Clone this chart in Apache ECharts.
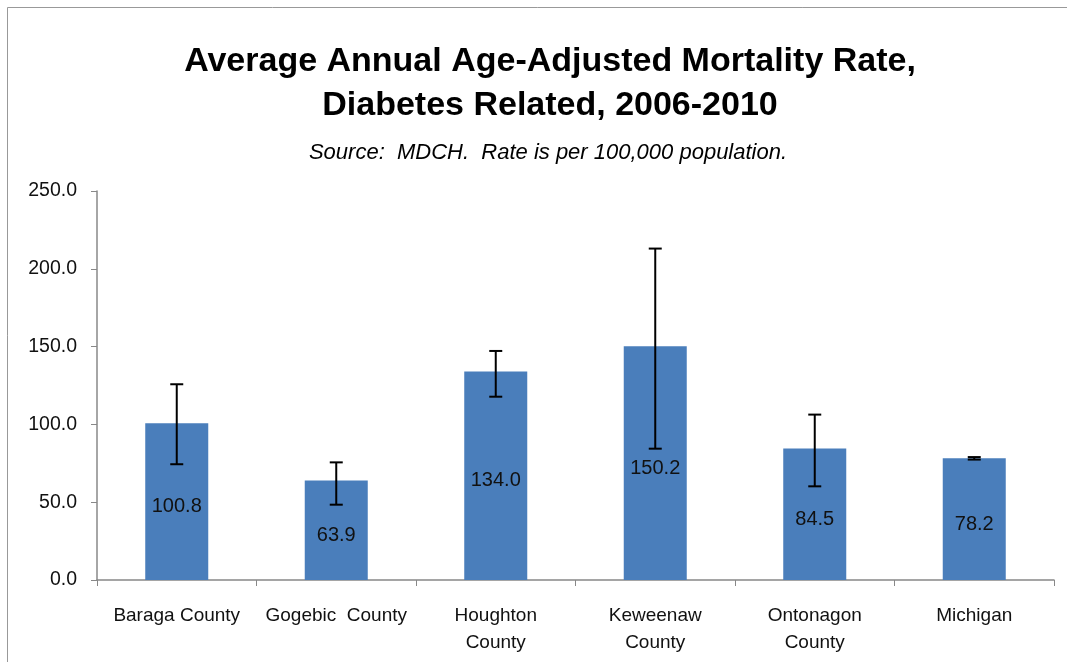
<!DOCTYPE html>
<html><head><meta charset="utf-8">
<script src="https://cdn.jsdelivr.net/npm/echarts@6/dist/echarts.min.js"></script>
<style>html,body{margin:0;padding:0;background:#fff}#c{width:1067px;height:662px}</style>
</head><body><div id="c"></div>
<script>
const categories = ["Baraga County", "Gogebic  County", "Houghton\nCounty", "Keweenaw\nCounty", "Ontonagon\nCounty", "Michigan"];
const rates = [100.8, 63.9, 134.0, 150.2, 84.5, 78.2];
const lowerCI = [74.4, 48.4, 117.8, 84.4, 60.2, 77.4];
const upperCI = [125.8, 75.6, 147.2, 213.0, 106.3, 79.0];
const yTicks = [0, 50, 100, 150, 200, 250];

const FONT = "'Liberation Sans', Arial, sans-serif";
const chart = echarts.init(document.getElementById('c'));
chart.setOption({
  animation: false,
  backgroundColor: '#fff',
  graphic: [{
    type: 'rect', shape: {x: 7.5, y: 7.5, width: 1070, height: 700},
    style: {fill: 'none', stroke: '#999', lineWidth: 1}, silent: true
  }],
  title: [{
    text: 'Average Annual Age-Adjusted Mortality Rate,\nDiabetes Related, 2006-2010',
    left: 545, textAlign: 'center', top: 35,
    textStyle: {fontFamily: FONT, fontWeight: 'bold', fontSize: 34, lineHeight: 44, color: '#000'}
  }, {
    text: 'Source:  MDCH.  Rate is per 100,000 population.',
    left: 543, textAlign: 'center', top: 137,
    textStyle: {fontFamily: FONT, fontStyle: 'italic', fontWeight: 'normal', fontSize: 22, color: '#000'}
  }],
  grid: {left: 97, right: 13, top: 191, bottom: 82},
  xAxis: {
    type: 'category', data: categories,
    axisLine: {lineStyle: {color: '#888', width: 1.5}},
    axisTick: {show: true, alignWithLabel: false, length: 6, lineStyle: {color: '#888'}},
    axisLabel: {interval: 0, margin: 22, fontFamily: FONT, fontSize: 19, color: '#111', lineHeight: 27}
  },
  yAxis: {
    type: 'value', min: 0, max: 250, interval: 50,
    axisLine: {show: true, lineStyle: {color: '#888', width: 1.5}},
    axisTick: {show: true, length: 6, lineStyle: {color: '#888'}},
    splitLine: {show: false},
    axisLabel: {margin: 20, fontFamily: FONT, fontSize: 19.5, color: '#111',
      formatter: v => yTicks.includes(v) ? v.toFixed(1) : ''}
  },
  series: [{
    type: 'bar', data: rates, barWidth: '39.5%',
    itemStyle: {color: '#4a7ebb'},
    label: {show: true, position: 'inside', offset: [0, 5], fontFamily: FONT, fontSize: 20, color: '#111',
      formatter: p => p.value.toFixed(1)}
  }, {
    type: 'custom',
    data: categories.map((c, i) => [i, lowerCI[i], upperCI[i]]),
    renderItem: function (params, api) {
      const x = api.value(0);
      const lo = api.coord([x, api.value(1)]);
      const hi = api.coord([x, api.value(2)]);
      const cap = 6.5;
      const st = {stroke: '#000', lineWidth: 2};
      return {type: 'group', children: [
        {type: 'line', shape: {x1: lo[0], y1: lo[1], x2: hi[0], y2: hi[1]}, style: st},
        {type: 'line', shape: {x1: lo[0]-cap, y1: lo[1], x2: lo[0]+cap, y2: lo[1]}, style: st},
        {type: 'line', shape: {x1: hi[0]-cap, y1: hi[1], x2: hi[0]+cap, y2: hi[1]}, style: st}
      ]};
    },
    z: 10
  }]
});
</script></body></html>
